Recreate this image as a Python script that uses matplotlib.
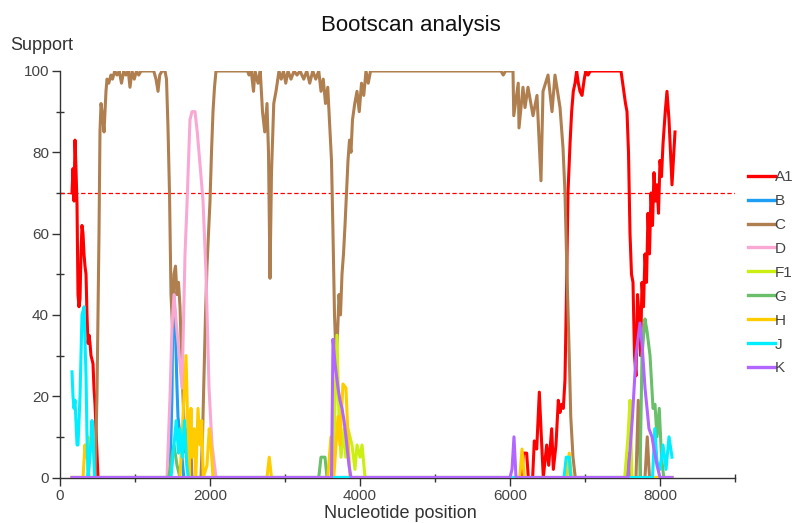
import matplotlib
matplotlib.use("Agg")
import matplotlib.pyplot as plt
from matplotlib.ticker import MultipleLocator

plt.rcParams['font.family'] = ['Liberation Sans', 'DejaVu Sans']

# ---- data (nucleotide position, support %) ----
A1_x = [160, 173, 187, 200, 213, 227, 240, 253, 267, 280, 293, 307, 320, 333, 347, 360, 373, 387, 400, 413,
        427, 440, 453, 467, 480, 493, 507,
        6156, 6178, 6222, 6244, 6302, 6324, 6356, 6391, 6413, 6444, 6489, 6516, 6556, 6578, 6613, 6644, 6667,
        6689, 6711, 6733, 6753, 6773, 6800, 6822, 6844, 6867, 6889, 6911, 6933, 6960, 6990, 7010, 7040, 7070,
        7100, 7200, 7300, 7400, 7480, 7510, 7540, 7560, 7580, 7600, 7620, 7640, 7660, 7680, 7700, 7720, 7740,
        7760, 7780, 7800, 7820, 7840, 7860, 7880, 7900, 7920, 7940, 7960, 7980, 8000, 8020, 8040, 8070, 8093,
        8120, 8160, 8200]
A1_y = [70, 76, 68, 83, 76, 67, 45, 42, 44, 55, 62, 60, 55, 52, 50, 40, 33, 35, 33, 30,
        29, 28, 22, 18, 12, 6, 0,
        0, 6, 6, 0, 0, 9, 7, 21, 12, 0, 8, 3, 12, 2, 8, 19, 16,
        18, 17, 24, 45, 70, 82, 90, 95, 97, 100, 97, 95, 94, 98, 100, 99, 100,
        100, 100, 100, 100, 100, 96, 92, 90, 80, 60, 50, 48, 30, 25, 45, 40, 30,
        48, 42, 55, 48, 65, 55, 70, 62, 75, 68, 72, 65, 78, 74, 82, 90, 95,
        88, 72, 85]

B_x = [160, 1467, 1493, 1507, 1533, 1560, 1573, 1600, 1627, 1650, 8160]
B_y = [0, 0, 20, 48, 40, 22, 15, 10, 5, 0, 0]

C_x = [160, 467, 493, 520, 533, 547, 560, 573, 587, 600, 613, 627, 650, 680, 700, 730, 760, 790, 820, 850,
       880, 910, 933, 960, 990, 1020, 1050, 1080, 1250, 1280, 1307, 1330, 1360, 1400, 1420, 1440, 1460, 1480,
       1500, 1520, 1540, 1560, 1580, 1600, 1620, 1640, 1660, 1680, 1700, 1720, 1740, 1760, 1880, 1900, 1920,
       1940, 1960, 1980, 2000, 2020, 2040, 2060, 2080, 2500, 2520, 2550, 2580, 2600, 2640, 2670, 2700, 2730,
       2760, 2780, 2800, 2820, 2850, 2880, 2920, 2950, 2980, 3010, 3040, 3080, 3120, 3160, 3200, 3250, 3290,
       3330, 3370, 3410, 3450, 3480, 3510, 3540, 3570, 3600, 3620, 3640, 3660, 3680, 3700, 3720, 3740, 3760,
       3780, 3800, 3820, 3840, 3860, 3880, 3900, 3930, 3960, 3990, 4020, 4050, 4080, 4110, 4140, 5880, 5910,
       5940, 6040, 6050, 6110, 6120, 6173, 6200, 6240, 6307, 6360, 6413, 6440, 6507, 6560, 6600, 6667, 6707,
       6733, 6760, 6790, 6810, 6840, 6870, 7540, 7570, 7600, 7680, 7710, 7740, 7800, 7830, 7860, 8160]
C_y = [0, 0, 20, 60, 85, 92, 90, 88, 85, 90, 95, 98, 97, 99, 98, 100, 99, 100, 97, 100,
       99, 100, 96, 100, 98, 100, 99, 100, 100, 98, 95, 99, 100, 100, 98, 86, 70, 45,
       37, 50, 52, 45, 48, 42, 30, 20, 10, 6, 12, 3, 10, 0, 0, 10, 25,
       40, 52, 60, 68, 80, 90, 96, 100, 100, 99, 100, 95, 100, 97, 100, 90, 85,
       92, 80, 49, 75, 92, 95, 100, 98, 100, 97, 100, 98, 100, 99, 100, 98, 100,
       97, 100, 98, 100, 95, 98, 92, 96, 85, 78, 60, 40, 30, 35, 45, 40, 50,
       55, 62, 70, 78, 83, 80, 88, 92, 95, 90, 97, 94, 100, 97, 100, 100, 99,
       100, 100, 89, 97, 86, 96, 91, 96, 89, 94, 73, 95, 99, 90, 99, 91, 81,
       70, 50, 30, 15, 5, 0, 0, 6, 0, 0, 19, 0, 0, 10, 0, 0]

D_x = [160, 1427, 1467, 1493, 1520, 1550, 1590, 1627, 1667, 1693, 1733, 1760, 1800, 1830, 1867, 1907, 1947,
       1987, 2027, 2080, 8160]
D_y = [0, 0, 20, 37, 45, 38, 30, 22, 55, 67, 88, 90, 90, 85, 77, 68, 50, 22, 8, 0, 0]

F1_x = [160, 3640, 3693, 3720, 3747, 3787, 3810, 3840, 3893, 3933, 3960, 4000, 4027, 4067, 7530, 7573,
        7600, 7627, 8160]
F1_y = [0, 0, 35, 15, 5, 12, 5, 12, 8, 2, 8, 5, 8, 0, 0, 10, 19, 0, 0]

G_x = [160, 1450, 1490, 1520, 1560, 1600, 3450, 3480, 3533, 3560, 7733, 7760, 7800, 7827, 7867, 7907, 7933,
       7960, 7990, 8020, 8050, 8160]
G_y = [0, 0, 5, 8, 3, 0, 0, 5, 5, 0, 0, 30, 39, 36, 30, 17, 18, 10, 17, 5, 0, 0]

H_x = [160, 307, 333, 347, 373, 387, 1600, 1640, 1680, 1707, 1720, 1747, 1760, 1790, 1810, 1840, 1867, 1890,
       1910, 1960, 1990, 2013, 2040, 2760, 2790, 2820, 3570, 3613, 3650, 3707, 3733, 3773, 3813, 3840, 3867,
       6130, 6160, 6190, 6760, 6790, 6820, 8160]
H_y = [0, 0, 8, 5, 10, 0, 0, 15, 30, 10, 0, 17, 5, 12, 0, 17, 8, 14,
       0, 3, 12, 8, 0, 0, 5, 0, 0, 10, 0, 15, 8, 23, 22, 10, 0,
       0, 7, 0, 0, 6, 0, 0]

J_x = [160, 173, 187, 200, 227, 240, 267, 293, 320, 347, 360, 373, 400, 427, 440, 460, 1480, 1520, 1550,
       1580, 1600, 1630, 1660, 1690, 1710, 6720, 6750, 6790, 6810, 7900, 7930, 7960, 8000, 8040, 8080,
       8120, 8160]
J_y = [26, 20, 17, 19, 8, 8, 20, 40, 42, 25, 10, 0, 5, 14, 10, 0, 0, 8, 14,
       6, 12, 5, 14, 3, 0, 0, 5, 5, 0, 0, 12, 4, 2, 8, 2,
       10, 5]

K_x = [160, 3620, 3640, 3667, 3707, 3733, 3760, 3787, 3813, 3853, 3880, 6000, 6027, 6053, 6080, 7573, 7633,
       7680, 7733, 7760, 7800, 7827, 7853, 7893, 7920, 7960, 8000, 8160]
K_y = [0, 0, 34, 28, 22, 19, 17, 14, 10, 3, 0, 0, 2, 10, 0, 0, 15,
       30, 38, 33, 22, 17, 12, 10, 7, 3, 0, 0]

series_names = ["A1", "B", "C", "D", "F1", "G", "H", "J", "K"]
series_x = [A1_x, B_x, C_x, D_x, F1_x, G_x, H_x, J_x, K_x]
series_y = [A1_y, B_y, C_y, D_y, F1_y, G_y, H_y, J_y, K_y]
series_colors = ["#ff0000", "#1e9ef5", "#b07f50", "#f9a8d4", "#ccee11", "#6abf6a", "#ffcc00", "#00eeff", "#b266ff"]
threshold = 70

x_ticks = [0, 2000, 4000, 6000, 8000]
y_ticks = [0, 20, 40, 60, 80, 100]

# ---- figure ----
fig = plt.figure(figsize=(7.92, 5.23), dpi=100)
ax = fig.add_axes([60 / 792, 45.5 / 523, 675 / 792, 406.5 / 523])

for name, xs, ys, col in zip(series_names, series_x, series_y, series_colors):
    ax.plot(xs, ys, color=col, lw=2.2, label=name, solid_joinstyle='round', zorder=3)

ax.axhline(threshold, color="#ff0000", lw=0.9, ls=(0, (3.5, 2)), zorder=2)

ax.set_xlim(0, 9000)
ax.set_ylim(0, 100)
ax.set_xticks(x_ticks)
ax.set_yticks(y_ticks)
ax.xaxis.set_minor_locator(MultipleLocator(1000))
ax.yaxis.set_minor_locator(MultipleLocator(10))

for s in ["top", "right"]:
    ax.spines[s].set_visible(False)
for s in ["left", "bottom"]:
    ax.spines[s].set_color("#333333")
    ax.spines[s].set_linewidth(1.0)
ax.tick_params(which="major", direction="out", length=6, width=1.0, color="#333333",
               labelsize=11, labelcolor="#444444", pad=2)
ax.tick_params(which="minor", direction="inout", length=6, width=1.0, color="#333333")
ax.patch.set_alpha(0)

fig.text(411 / 792, 1 - 25 / 523, "Bootscan analysis", ha="center", va="center", fontsize=16, color="#111111")
fig.text(10 / 792, 1 - 46 / 523, "Support", ha="left", va="center", fontsize=13, color="#333333")
fig.text(400 / 792, 1 - 514 / 523, "Nucleotide position", ha="center", va="center", fontsize=13, color="#333333")

leg = fig.legend(loc="upper left", bbox_to_anchor=(748 / 792, 1 - 170 / 523), frameon=False,
                 handlelength=1.75, handletextpad=0.0, labelspacing=0.65, fontsize=11,
                 borderaxespad=0, borderpad=0)
for t in leg.get_texts():
    t.set_color("#444444")
for l in leg.get_lines():
    l.set_linewidth(2.4)

fig.savefig("out.png", dpi=100)
